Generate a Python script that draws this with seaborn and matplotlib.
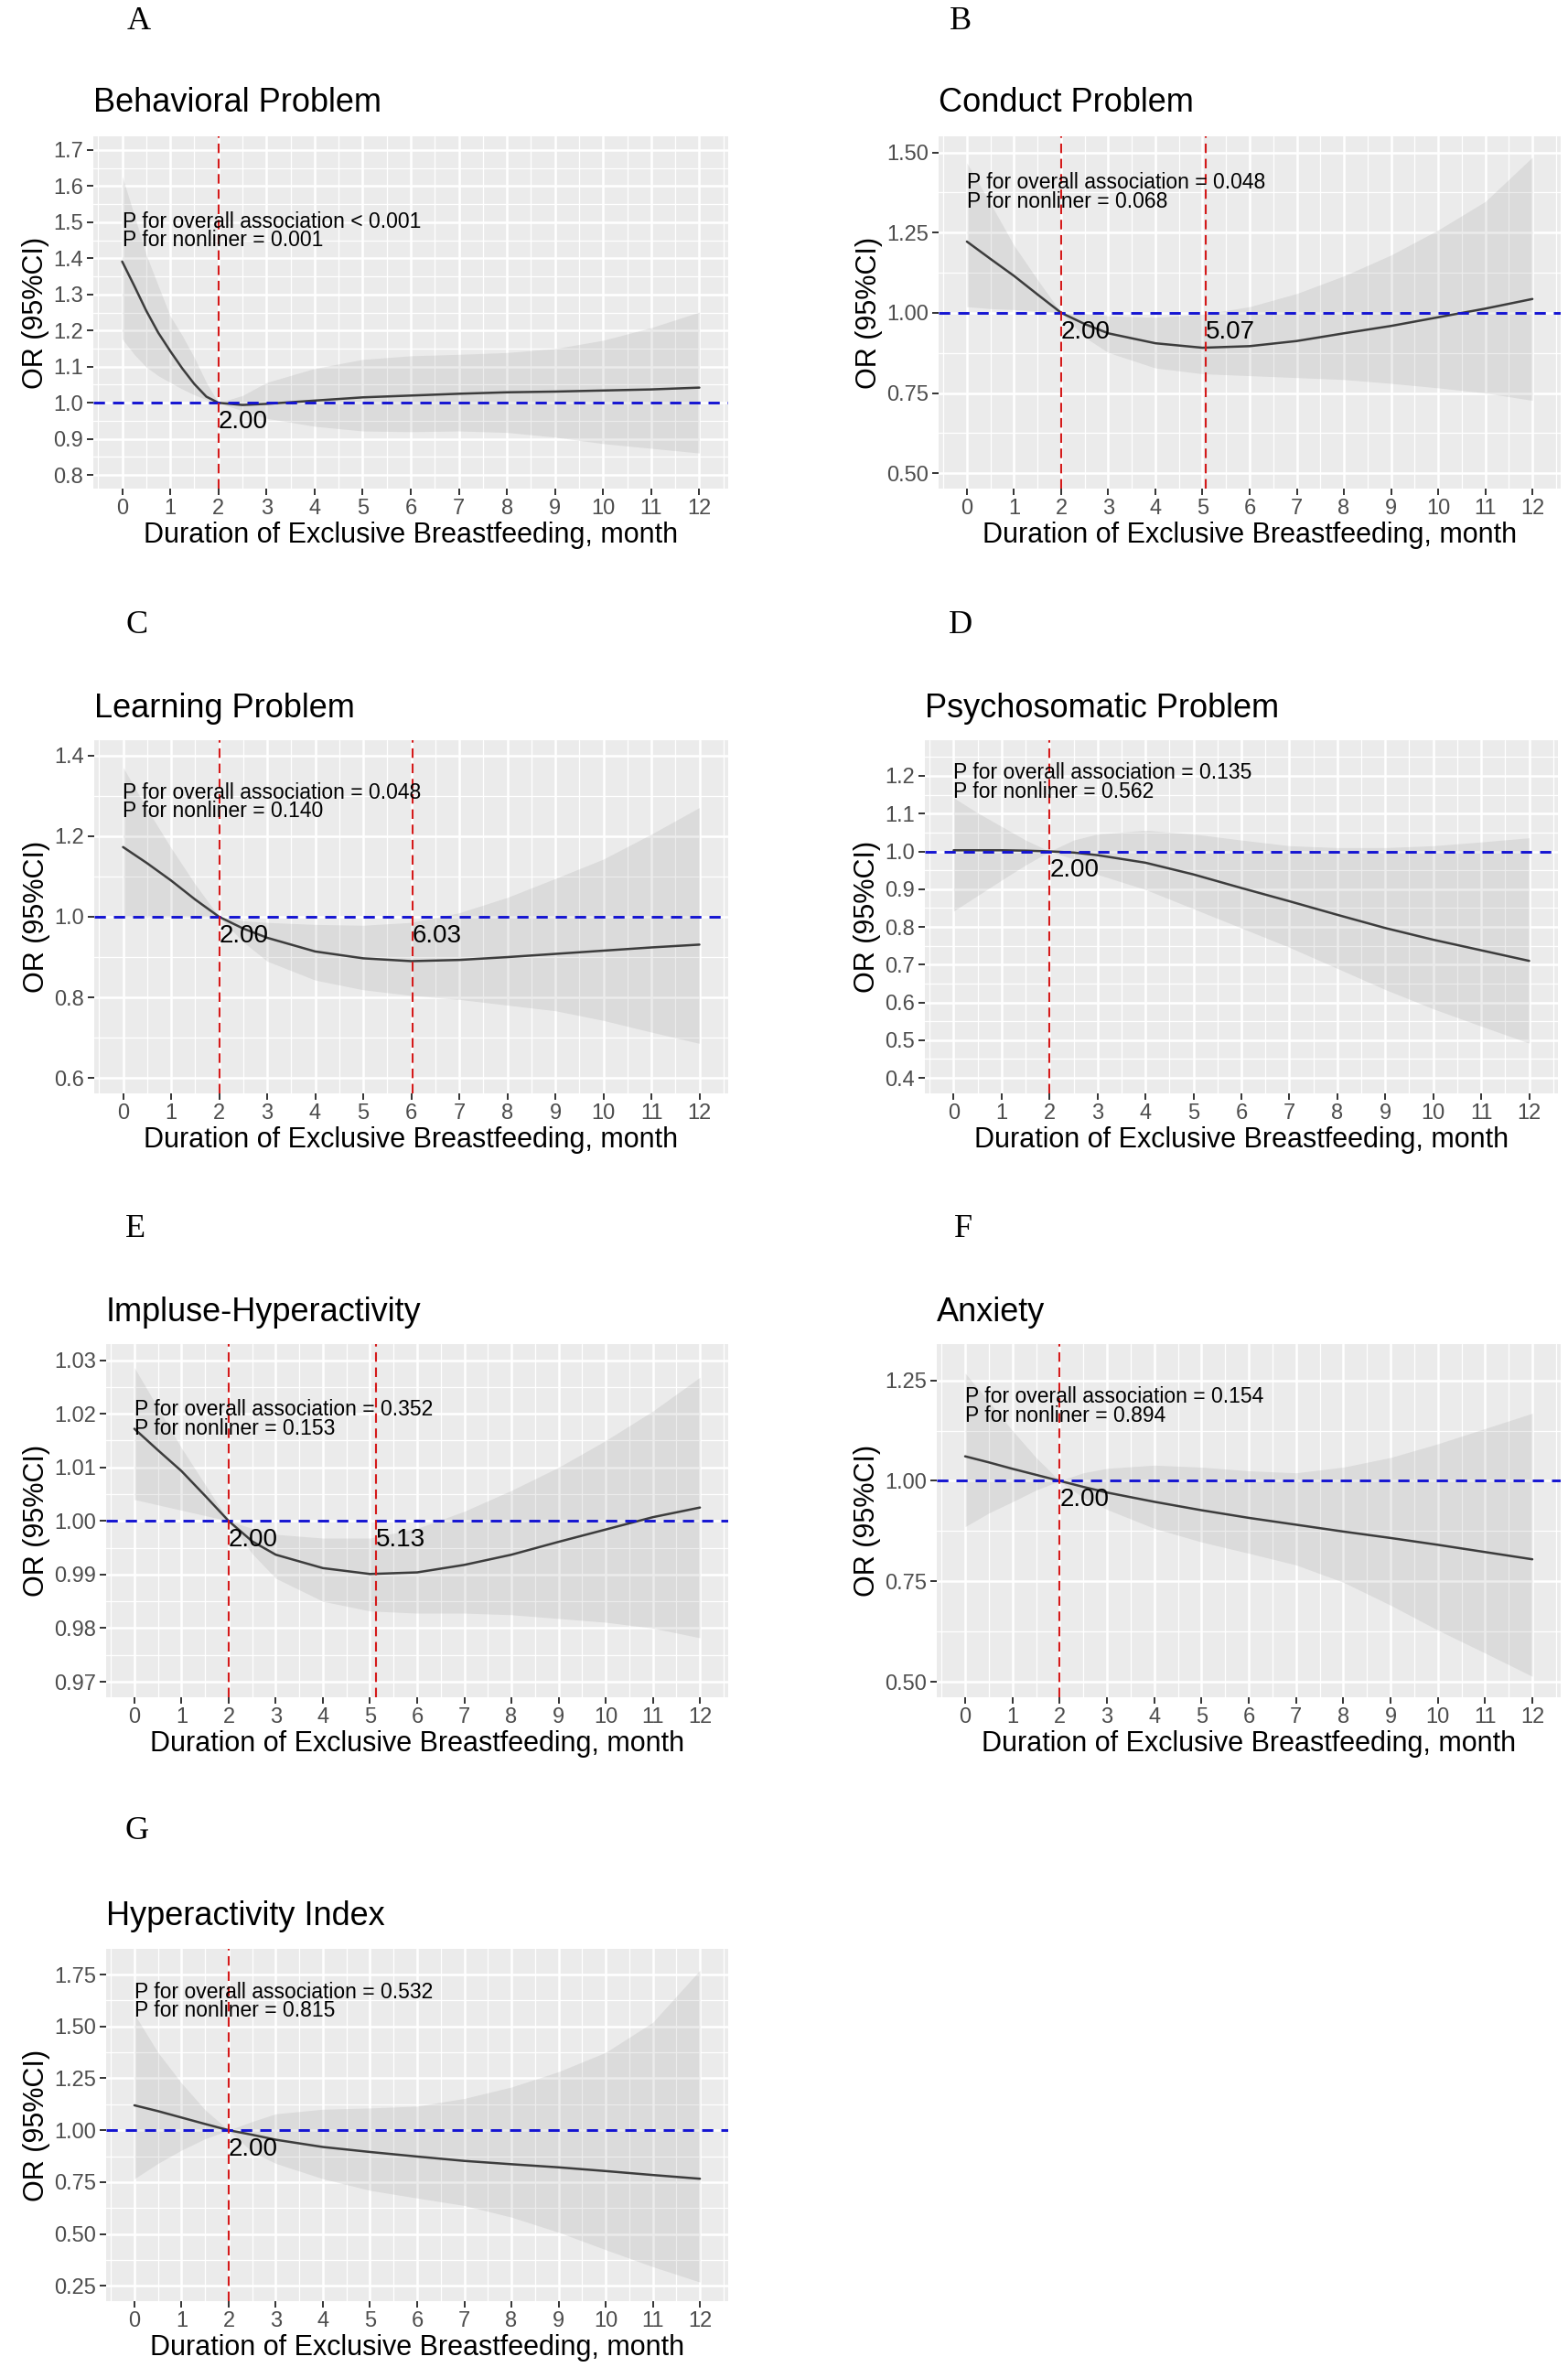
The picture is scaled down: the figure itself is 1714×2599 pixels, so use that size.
import numpy as np
import pandas as pd
import matplotlib
matplotlib.use("Agg")
import matplotlib.pyplot as plt
from matplotlib.ticker import MultipleLocator, FixedLocator
import seaborn as sns

# ---------------- data ----------------
months_A = [0, 0.25, 0.5, 0.75, 1, 1.25, 1.5, 1.75, 2, 2.5, 3, 4, 5, 6, 7, 8, 9, 10, 11, 12]
months = [0, 0.5, 1, 1.5, 2, 2.5, 3, 4, 5, 6, 7, 8, 9, 10, 11, 12]
x_ticks = list(range(0, 13))

behav_or = [1.391, 1.324, 1.255, 1.194, 1.143, 1.095, 1.052, 1.017, 1.0, 0.994, 0.997,
            1.006, 1.015, 1.020, 1.025, 1.029, 1.031, 1.034, 1.037, 1.042]
behav_hi = [1.627, 1.52, 1.41, 1.324, 1.24, 1.186, 1.125, 1.056, 1.0, 1.02, 1.056,
            1.095, 1.12, 1.13, 1.134, 1.139, 1.15, 1.173, 1.208, 1.251]
behav_lo = [1.177, 1.134, 1.099, 1.075, 1.056, 1.038, 1.022, 1.009, 1.0, 0.978, 0.957,
            0.935, 0.922, 0.92, 0.922, 0.918, 0.905, 0.887, 0.874, 0.861]

conduct_or = [1.222, 1.168, 1.115, 1.057, 1.0, 0.965, 0.936, 0.905, 0.891, 0.896, 0.912, 0.936, 0.959, 0.986, 1.013, 1.043]
conduct_hi = [1.467, 1.341, 1.21, 1.103, 1.0, 0.998, 0.99, 0.986, 0.995, 1.019, 1.06, 1.115, 1.18, 1.258, 1.347, 1.485]
conduct_lo = [1.019, 1.013, 1.01, 1.005, 1.0, 0.924, 0.876, 0.828, 0.81, 0.804, 0.798, 0.792, 0.78, 0.766, 0.75, 0.727]

learn_or = [1.173, 1.133, 1.09, 1.043, 1.0, 0.971, 0.948, 0.914, 0.897, 0.89, 0.893, 0.9, 0.908, 0.916, 0.924, 0.931]
learn_hi = [1.371, 1.267, 1.171, 1.081, 1.0, 0.99, 0.986, 0.981, 0.979, 0.986, 1.01, 1.048, 1.095, 1.143, 1.205, 1.271]
learn_lo = [0.998, 0.998, 0.999, 0.999, 1.0, 0.938, 0.89, 0.843, 0.819, 0.805, 0.795, 0.781, 0.767, 0.743, 0.714, 0.686]

psycho_or = [1.003, 1.003, 1.003, 1.002, 1.0, 0.997, 0.99, 0.97, 0.939, 0.903, 0.868, 0.832, 0.797, 0.766, 0.738, 0.71]
psycho_hi = [1.142, 1.102, 1.066, 1.03, 1.0, 1.03, 1.046, 1.056, 1.046, 1.03, 1.015, 1.01, 1.01, 1.015, 1.025, 1.036]
psycho_lo = [0.842, 0.883, 0.924, 0.964, 1.0, 0.98, 0.939, 0.899, 0.848, 0.797, 0.746, 0.69, 0.634, 0.583, 0.537, 0.492]

impulse_or = [1.0172, 1.0132, 1.0093, 1.0047, 1.0, 0.9962, 0.9937, 0.9912, 0.9901, 0.9904, 0.9918, 0.9937, 0.9961, 0.9984, 1.0007, 1.0025]
impulse_hi = [1.0286, 1.0211, 1.0136, 1.0068, 1.0, 0.9986, 0.9975, 0.9968, 0.9968, 0.9986, 1.0018, 1.0057, 1.01, 1.015, 1.0205, 1.0268]
impulse_lo = [1.0040, 1.0030, 1.0020, 1.0010, 1.0, 0.9939, 0.9893, 0.985, 0.9832, 0.9828, 0.9828, 0.9825, 0.9818, 0.9811, 0.98, 0.9782]

anxiety_or = [1.061, 1.046, 1.03, 1.015, 1.0, 0.985, 0.971, 0.948, 0.927, 0.908, 0.891, 0.874, 0.858, 0.841, 0.823, 0.805]
anxiety_hi = [1.268, 1.197, 1.125, 1.058, 1.0, 1.02, 1.031, 1.039, 1.034, 1.025, 1.02, 1.034, 1.058, 1.092, 1.13, 1.168]
anxiety_lo = [0.886, 0.92, 0.948, 0.977, 1.0, 0.958, 0.929, 0.882, 0.848, 0.82, 0.791, 0.748, 0.691, 0.629, 0.572, 0.514]

hyper_or = [1.12, 1.092, 1.061, 1.03, 1.0, 0.978, 0.954, 0.919, 0.895, 0.873, 0.852, 0.836, 0.821, 0.803, 0.784, 0.766]
hyper_hi = [1.559, 1.375, 1.227, 1.098, 1.0, 1.042, 1.079, 1.101, 1.107, 1.116, 1.153, 1.208, 1.282, 1.375, 1.52, 1.771]
hyper_lo = [0.766, 0.84, 0.904, 0.959, 1.0, 0.895, 0.84, 0.766, 0.71, 0.673, 0.637, 0.581, 0.508, 0.424, 0.342, 0.268]

letters = ["A", "B", "C", "D", "E", "F", "G"]
titles = ["Behavioral Problem", "Conduct Problem", "Learning Problem",
          "Psychosomatic Problem", "Impluse-Hyperactivity", "Anxiety",
          "Hyperactivity Index"]
p_overall = ["< 0.001", "= 0.048", "= 0.048", "= 0.135", "= 0.352", "= 0.154", "= 0.532"]
p_nonlin = ["0.001", "0.068", "0.140", "0.562", "0.153", "0.894", "0.815"]
knots = [[2.00], [2.00, 5.07], [2.00, 6.03], [2.00], [2.00, 5.13], [2.00], [2.00]]

yticks_A = [0.8, 0.9, 1.0, 1.1, 1.2, 1.3, 1.4, 1.5, 1.6, 1.7]
yticks_B = [0.50, 0.75, 1.00, 1.25, 1.50]
yticks_C = [0.6, 0.8, 1.0, 1.2, 1.4]
yticks_D = [0.4, 0.5, 0.6, 0.7, 0.8, 0.9, 1.0, 1.1, 1.2]
yticks_E = [0.97, 0.98, 0.99, 1.00, 1.01, 1.02, 1.03]
yticks_F = [0.50, 0.75, 1.00, 1.25]
yticks_G = [0.25, 0.50, 0.75, 1.00, 1.25, 1.50, 1.75]

series = [
    (months_A, behav_or, behav_lo, behav_hi, yticks_A),
    (months, conduct_or, conduct_lo, conduct_hi, yticks_B),
    (months, learn_or, learn_lo, learn_hi, yticks_C),
    (months, psycho_or, psycho_lo, psycho_hi, yticks_D),
    (months, impulse_or, impulse_lo, impulse_hi, yticks_E),
    (months, anxiety_or, anxiety_lo, anxiety_hi, yticks_F),
    (months, hyper_or, hyper_lo, hyper_hi, yticks_G),
]

# ---------------- layout (pixels) ----------------
W, H = 1714, 2599
panels_px = [  # left, right, top, bottom
    (102, 796, 149, 534),
    (1026, 1706, 149, 534),
    (103, 796, 809, 1195),
    (1011, 1703, 809, 1195),
    (116, 796, 1469, 1855),
    (1024, 1706, 1469, 1855),
    (116, 796, 2130, 2515),
]
ylims = [(0.7625, 1.7375), (0.452, 1.55), (0.562, 1.438), (0.359, 1.2945),
         (0.9671, 1.033), (0.462, 1.34), (0.176, 1.874)]
ydec = [1, 2, 1, 1, 2, 2, 2]
p_text_y = [1.475, 1.376, 1.285, 1.183, 1.019, 1.185, 1.62]
letter_pos = [(152, 23), (1050, 23), (150, 684), (1050, 684),
              (148, 1344), (1053, 1344), (150, 2002)]
title_y = [113, 113, 774, 774, 1434, 1434, 2094]

sns.set_theme(style="darkgrid", rc={
    "axes.facecolor": "#EBEBEB",
    "grid.color": "white",
})
plt.rcParams["font.family"] = ["Liberation Sans", "DejaVu Sans"]

fig = plt.figure(figsize=(W / 100, H / 100), dpi=100)
fig.patch.set_facecolor("white")

for i, (xs, est, lo, hi, yt) in enumerate(series):
    l, r, t, b = panels_px[i]
    ax = fig.add_axes([l / W, 1 - b / H, (r - l) / W, (b - t) / H])
    ax.set_facecolor("#EBEBEB")
    for s in ax.spines.values():
        s.set_visible(False)

    df = pd.DataFrame({"month": xs, "OR": est, "lo": lo, "hi": hi})
    ax.fill_between(df["month"], df["lo"], df["hi"], color="#7A7A7A",
                    alpha=0.14, linewidth=0, zorder=2)
    sns.lineplot(data=df, x="month", y="OR", ax=ax, color="#3C3C3C",
                 linewidth=1.8, zorder=4, estimator=None, sort=True)

    ax.axhline(1.0, color="#1414D2", linewidth=2.1, dashes=(4.2, 3.0), zorder=5)
    for k in knots[i]:
        ax.axvline(k, color="#D41A1A", linewidth=1.5, dashes=(5.0, 3.0), zorder=5)
        ax.annotate(f"{k:.2f}", xy=(k, 1.0), xytext=(0, -15),
                    textcoords="offset points", ha="left", va="center",
                    fontsize=20, color="black", zorder=6)

    ax.text(0, p_text_y[i],
            f"P for overall association {p_overall[i]}\nP for nonliner = {p_nonlin[i]}",
            ha="left", va="center", fontsize=16.5, linespacing=0.85,
            color="black", zorder=6)

    ax.set_xlim(-0.6, 12.6)
    ax.set_ylim(*ylims[i])
    ax.xaxis.set_major_locator(FixedLocator(x_ticks))
    ax.set_xticklabels([str(v) for v in x_ticks])
    ax.xaxis.set_minor_locator(MultipleLocator(0.5))
    ax.yaxis.set_major_locator(FixedLocator(yt))
    ax.set_yticklabels([f"{v:.{ydec[i]}f}" for v in yt])
    step = yt[1] - yt[0]
    ax.yaxis.set_minor_locator(MultipleLocator(step / 2))

    ax.grid(which="major", color="white", linewidth=1.8, zorder=0)
    ax.grid(which="minor", color="white", linewidth=0.9, zorder=0)
    ax.set_axisbelow(True)
    ax.tick_params(axis="both", which="major", bottom=True, left=True,
                   length=5, width=1.4, color="#333333", labelsize=17,
                   labelcolor="#4D4D4D", pad=3)
    ax.tick_params(axis="both", which="minor", length=0)

    ax.set_xlabel("Duration of Exclusive Breastfeeding, month", fontsize=22,
                  color="black", labelpad=2)
    ax.set_ylabel("OR (95%CI)", fontsize=22, color="black", labelpad=3)

    fig.text(l / W, 1 - title_y[i] / H, titles[i], ha="left", va="center",
             fontsize=26, color="black")
    lx, ly = letter_pos[i]
    fig.text(lx / W, 1 - ly / H, letters[i], ha="center", va="center",
             fontsize=26, family="Liberation Serif", color="black")

fig.savefig("out.png", dpi=100, facecolor="white")
